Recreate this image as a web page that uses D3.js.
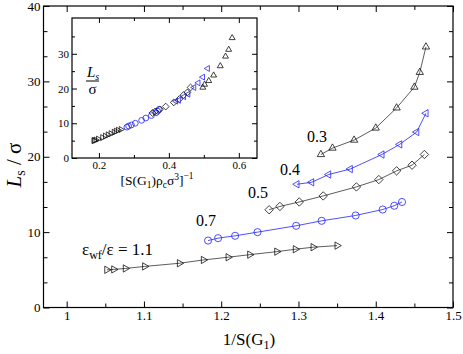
<!DOCTYPE html>
<meta charset="utf-8">
<title>Ls vs 1/S(G1)</title>
<style>
body { margin: 0; background: #fff; }
svg { display: block; font-family: "Liberation Serif", "Times New Roman", serif; }
.tick text { font-family: "Liberation Serif", serif; fill: #000; }
.tick line { stroke: #000; stroke-width: 1; }
.frame { fill: none; stroke: #000; stroke-width: 1.2; }
.series path.line { fill: none; stroke-width: 0.8; }
.mk { fill: none; stroke-width: 0.8; }
</style>
<body>
<svg width="463" height="354"></svg>
<script src="https://cdn.jsdelivr.net/npm/d3@7"></script>
<script>
// eps_wf/eps values, one series each
var labels = ["1.1", "0.7", "0.5", "0.4", "0.3"]
var shapes = ["right", "circle", "diamond", "left", "up"]
var colors = ["#333", "#2323f5", "#333", "#2323f5", "#333"]

// main plot: 1/S(G1)
var x11 = [1.052, 1.061, 1.076, 1.101, 1.146, 1.177, 1.209, 1.237, 1.272, 1.296, 1.319, 1.350]
var x07 = [1.183, 1.196, 1.218, 1.247, 1.297, 1.330, 1.374, 1.409, 1.424, 1.434]
var x05 = [1.262, 1.276, 1.301, 1.332, 1.375, 1.404, 1.427, 1.447, 1.463]
var x04 = [1.298, 1.317, 1.339, 1.367, 1.408, 1.431, 1.453, 1.465]
var x03 = [1.329, 1.344, 1.372, 1.400, 1.427, 1.450, 1.457, 1.465]

// Ls / sigma
var y11 = [5.00, 5.05, 5.18, 5.45, 5.87, 6.31, 6.67, 7.01, 7.41, 7.73, 8.00, 8.21]
var y07 = [8.88, 9.20, 9.51, 10.0, 10.84, 11.5, 12.21, 13.0, 13.5, 14.0]
var y05 = [12.97, 13.41, 14.0, 14.8, 16.0, 16.97, 18.13, 18.88, 20.3]
var y04 = [16.35, 16.61, 17.64, 18.37, 20.3, 21.64, 23.28, 25.77]
var y03 = [20.3, 21.15, 22.21, 23.81, 26.48, 29.24, 31.2, 34.57]

// inset: [S(G1) rho_c sigma^3]^-1
var u11 = [0.185, 0.187, 0.191, 0.198, 0.210, 0.218, 0.226, 0.234, 0.243, 0.249, 0.255, 0.263]
var u07 = [0.280, 0.285, 0.293, 0.304, 0.322, 0.334, 0.350, 0.363, 0.368, 0.372]
var u05 = [0.353, 0.361, 0.374, 0.391, 0.414, 0.430, 0.442, 0.453, 0.462]
var u04 = [0.420, 0.428, 0.443, 0.455, 0.472, 0.484, 0.497, 0.511]
var u03 = [0.497, 0.502, 0.514, 0.528, 0.547, 0.562, 0.571, 0.581]

var xs = [x11, x07, x05, x04, x03]
var ys = [y11, y07, y05, y04, y03]
var us = [u11, u07, u05, u04, u03]

var svg = d3.select("svg")

function marker(shape, s) {
	var a = s * 0.87, b = s * 0.5
	if (shape == "up") return "M0," + (-s) + "L" + a + "," + b + "L" + (-a) + "," + b + "Z"
	if (shape == "right") return "M" + s + ",0L" + (-b) + "," + a + "L" + (-b) + "," + (-a) + "Z"
	if (shape == "left") return "M" + (-s) + ",0L" + b + "," + a + "L" + b + "," + (-a) + "Z"
	if (shape == "diamond") return "M0," + (-s) + "L" + s + ",0L0," + s + "L" + (-s) + ",0Z"
	var p = d3.path(); p.arc(0, 0, s * 0.85, 0, 2 * Math.PI); return p.toString()
}

function drawFrame(g, x, y, xMaj, xMin, yMaj, yMin, fmtX, fmtY, fs, majLen, minLen) {
	var w = x.range()[1] - x.range()[0], h = y.range()[0] - y.range()[1]
	var x0 = x.range()[0], y0 = y.range()[1]
	g.append("rect").attr("x", x0).attr("y", y0).attr("width", w).attr("height", h).attr("fill", "#fff")

	function ax(axis, t, vals, len, fmt) {
		var a = g.append("g").attr("transform", t)
			.call(axis.tickValues(vals).tickSizeInner(-len).tickSizeOuter(0).tickPadding(3).tickFormat(fmt))
		a.select(".domain").remove()
		a.selectAll("text").style("font-size", fs + "px")
		return a
	}
	var none = function() { return "" }
	ax(d3.axisBottom(x), "translate(0," + (y0 + h) + ")", xMaj, majLen, fmtX)
	ax(d3.axisBottom(x), "translate(0," + (y0 + h) + ")", xMin, minLen, none)
	ax(d3.axisTop(x), "translate(0," + y0 + ")", xMaj, majLen, none)
	ax(d3.axisTop(x), "translate(0," + y0 + ")", xMin, minLen, none)
	ax(d3.axisLeft(y), "translate(" + x0 + ",0)", yMaj, majLen, fmtY)
	ax(d3.axisLeft(y), "translate(" + x0 + ",0)", yMin, minLen, none)
	ax(d3.axisRight(y), "translate(" + (x0 + w) + ",0)", yMaj, majLen, none)
	ax(d3.axisRight(y), "translate(" + (x0 + w) + ",0)", yMin, minLen, none)
	g.append("rect").attr("class", "frame").attr("x", x0).attr("y", y0).attr("width", w).attr("height", h)
}

function drawSeries(g, x, y, xv, yv, size, withLine) {
	for (var i = 0; i < xv.length; i++) {
		var pts = xv[i].map(function(d, j) { return [x(d), y(yv[i][j])] })
		var s = g.append("g").attr("class", "series")
		if (withLine) {
			s.append("path").attr("class", "line").attr("d", d3.line()(pts)).attr("stroke", colors[i])
		}
		s.selectAll("path.mk").data(pts).enter().append("path")
			.attr("class", "mk")
			.attr("transform", function(d) { return "translate(" + d[0] + "," + d[1] + ")" })
			.attr("stroke", colors[i] == "#333" ? "#111" : colors[i])
			.attr("d", marker(shapes[i], size))
	}
}

// main chart
var x = d3.scaleLinear().domain([0.97, 1.5]).range([43.5, 453])
var y = d3.scaleLinear().domain([0, 40]).range([307.5, 6])
var main = svg.append("g")
drawFrame(main, x, y,
	[1, 1.1, 1.2, 1.3, 1.4, 1.5], [1.05, 1.15, 1.25, 1.35, 1.45],
	[0, 10, 20, 30, 40], [10/3, 20/3, 40/3, 50/3, 70/3, 80/3, 100/3, 110/3],
	function(d) { return d == 1 ? "1" : d3.format(".1f")(d) }, d3.format("d"), 13, 6, 4)
drawSeries(main, x, y, xs, ys, 4.2, true)

// series labels
var lab = [[317, 141.5], [290, 175], [258, 198], [206, 226]]
var labText = ["0.3", "0.4", "0.5", "0.7"]
main.selectAll("text.lab").data(labText).enter().append("text")
	.attr("x", function(d, i) { return lab[i][0] }).attr("y", function(d, i) { return lab[i][1] })
	.attr("text-anchor", "middle").style("font-size", "16px").text(function(d) { return d })

var eps = main.append("text").attr("x", 82).attr("y", 255).style("font-size", "17px")
eps.append("tspan").text("\u03b5")
eps.append("tspan").attr("dy", 4).style("font-size", "12px").text("wf")
eps.append("tspan").attr("dy", -4).text("/\u03b5 = " + labels[0])

var xt = main.append("text").attr("x", 249).attr("y", 345).attr("text-anchor", "middle").style("font-size", "17px")
xt.append("tspan").text("1/S(G")
xt.append("tspan").attr("dy", 4).style("font-size", "12px").text("1")
xt.append("tspan").attr("dy", -4).text(")")

var yt = main.append("text").attr("transform", "translate(21,165) rotate(-90)").attr("text-anchor", "middle").style("font-size", "21px")
yt.append("tspan").style("font-style", "italic").text("L")
yt.append("tspan").attr("dy", 4).style("font-size", "14px").text("s")
yt.append("tspan").attr("dy", -4).text(" / \u03c3")

// inset
var ix = d3.scaleLinear().domain([0.123, 0.652]).range([72, 257])
var iy = d3.scaleLinear().domain([0, 40.3]).range([158, 18])
var inset = svg.append("g")
drawFrame(inset, ix, iy,
	[0.2, 0.4, 0.6], [0.3, 0.5],
	[0, 10, 20, 30], [5, 15, 25, 35],
	d3.format(".1f"), d3.format("d"), 11, 5, 3)
drawSeries(inset, ix, iy, us, ys, 3.4, false)

var it = inset.append("text").attr("x", 157).attr("y", 185).attr("text-anchor", "middle").style("font-size", "13.5px")
it.append("tspan").text("[S(G")
it.append("tspan").attr("dy", 3).style("font-size", "9.5px").text("1")
it.append("tspan").attr("dy", -3).text(")\u03c1")
it.append("tspan").attr("dy", 3).style("font-size", "9.5px").text("c")
it.append("tspan").attr("dy", -3).text("\u03c3")
it.append("tspan").attr("dy", -5).style("font-size", "9.5px").text("3")
it.append("tspan").attr("dy", 5).text("]")
it.append("tspan").attr("dy", -6).style("font-size", "9.5px").text("\u22121")

var il = inset.append("text").attr("x", 87).attr("y", 77).style("font-size", "15px")
il.append("tspan").style("font-style", "italic").text("L")
il.append("tspan").attr("dy", 3).style("font-size", "10px").style("font-style", "italic").text("s")
inset.append("line").attr("x1", 86).attr("x2", 99).attr("y1", 81).attr("y2", 81).attr("stroke", "#000").attr("stroke-width", 1)
inset.append("text").attr("x", 92.5).attr("y", 94).attr("text-anchor", "middle").style("font-size", "15px").text("\u03c3")
</script>
</body>
